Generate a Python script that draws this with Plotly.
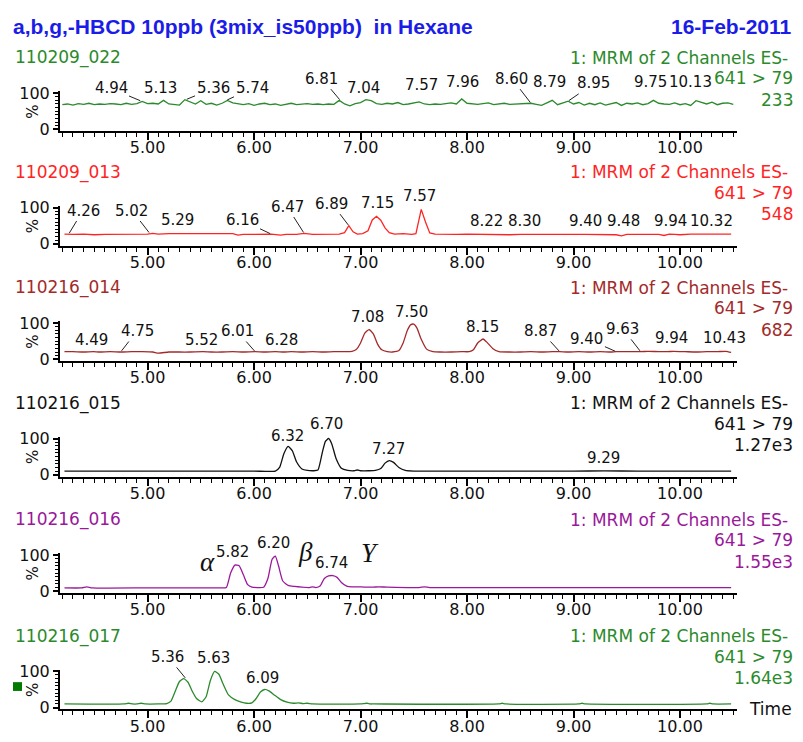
import numpy as np
import plotly.graph_objects as go

W, H = 803, 742

# ---------------- text / data ----------------
TITLE = "a,b,g,-HBCD 10ppb (3mix_is50ppb) \u00a0in Hexane"
DATE = "16-Feb-2011"
SAMPLES = ["110209_022", "110209_013", "110216_014", "110216_015", "110216_016", "110216_017"]
INTENSITY = ["233", "548", "682", "1.27e3", "1.55e3", "1.64e3"]
CHANNEL = "1: MRM of 2 Channels ES-"
TRANSITION = "641 > 79"
XTICK_VALS = [5, 6, 7, 8, 9, 10]
XTICK_TEXT = ["5.00", "6.00", "7.00", "8.00", "9.00", "10.00"]
YTICK_VALS = [0, 100]
YTICK_TEXT = ["0", "100"]

# Panel 1 : 110209_022 (noise only), sampled every 0.05 min from 4.20 to 10.50
T1 = np.round(np.arange(4.20, 10.5001, 0.05), 2)
Y1 = [68, 70, 67, 71, 69, 72, 68, 70, 69, 71,
      70, 68, 72, 69, 71, 77, 71, 72, 70, 80,
      70, 69, 67, 82, 75, 70, 79, 69, 72, 67,
      72, 80, 73, 70, 68, 71, 66, 70, 72, 68,
      70, 66, 69, 72, 68, 70, 71, 69, 70, 68,
      70, 69, 80, 70, 65, 71, 74, 82, 79, 71,
      69, 72, 70, 74, 68, 70, 72, 76, 70, 68,
      70, 69, 71, 73, 70, 84, 72, 70, 69, 71,
      73, 68, 70, 72, 69, 70, 70, 70, 72, 69,
      66, 73, 80, 68, 72, 78, 70, 74, 67, 72,
      68, 73, 67, 71, 74, 66, 72, 70, 73, 68,
      71, 80, 72, 70, 69, 73, 68, 71, 66, 79,
      74, 70, 75, 68, 72, 73, 69]

# Panel 2 : 110209_013
T2 = [4.22, 4.30, 4.40, 4.50, 4.60, 4.70, 4.80, 4.90,
      5.00, 5.05, 5.10, 5.20, 5.29, 5.40, 5.50, 5.60, 5.70, 5.80, 5.85, 5.90,
      6.00, 6.10, 6.16, 6.25, 6.30, 6.40, 6.47, 6.55, 6.60, 6.70, 6.75, 6.80, 6.85, 6.89, 6.93, 6.97,
      7.02, 7.07, 7.11, 7.15, 7.19, 7.23, 7.27, 7.32, 7.40, 7.48, 7.52, 7.57, 7.61, 7.65, 7.70, 7.80, 7.90,
      8.00, 8.10, 8.20, 8.30, 8.40, 8.50, 8.60, 8.70, 8.80, 8.90,
      9.00, 9.10, 9.20, 9.30, 9.40, 9.45, 9.50, 9.60, 9.70, 9.80, 9.85, 9.90, 9.95,
      10.00, 10.10, 10.20, 10.30, 10.40, 10.48]
Y2 = [27, 26, 27, 25, 26, 26, 25, 26,
      27, 29, 27, 28, 28, 27, 26, 26, 26, 28, 24, 26,
      26, 26, 27, 24, 26, 26, 29, 26, 26, 27, 26, 27, 31, 50, 33, 27,
      28, 36, 66, 76, 65, 44, 31, 27, 28, 26, 28, 95, 60, 30, 27, 26, 26,
      27, 26, 25, 26, 25, 26, 25, 26, 26, 25,
      26, 26, 26, 26, 25, 22, 26, 26, 26, 26, 23, 27, 26,
      25, 27, 27, 28, 27, 27]

# Panel 3 : 110216_014
T3 = [4.22, 4.30, 4.40, 4.49, 4.55, 4.65, 4.75, 4.85, 4.95,
      5.05, 5.10, 5.20, 5.30, 5.40, 5.52, 5.60, 5.70, 5.80, 5.90,
      6.01, 6.10, 6.20, 6.28, 6.35, 6.45, 6.55, 6.65, 6.75, 6.85, 6.92, 6.96,
      7.00, 7.04, 7.08, 7.12, 7.16, 7.20, 7.25, 7.30, 7.36, 7.40, 7.44, 7.47, 7.50, 7.53, 7.57, 7.62, 7.68, 7.75, 7.85, 7.95,
      8.02, 8.06, 8.10, 8.15, 8.19, 8.24, 8.30, 8.40, 8.50, 8.60, 8.70, 8.80, 8.87, 8.95,
      9.05, 9.15, 9.25, 9.35, 9.40, 9.50, 9.63, 9.70, 9.80, 9.88, 9.94,
      10.05, 10.15, 10.25, 10.35, 10.43, 10.48]
Y3 = [21, 21, 20, 21, 20, 21, 20, 21, 21,
      20, 17, 20, 20, 20, 21, 20, 20, 21, 20,
      21, 20, 21, 20, 21, 20, 21, 20, 21, 21, 22, 27,
      45, 72, 82, 70, 42, 26, 21, 20, 24, 45, 80, 95, 97, 86, 55, 28, 21, 20, 20, 21,
      21, 26, 45, 56, 46, 30, 21, 20, 20, 21, 20, 21, 21, 20,
      21, 20, 21, 20, 21, 21, 21, 22, 21, 21, 22,
      21, 20, 21, 21, 22, 19]

# Panel 4 : 110216_015
T4 = [4.22, 5.00, 6.00, 6.20, 6.24, 6.28, 6.32, 6.36, 6.40, 6.45,
      6.50, 6.56, 6.60, 6.64, 6.67, 6.70, 6.73, 6.77, 6.82, 6.88,
      6.94, 6.97, 7.00, 7.08, 7.14, 7.19, 7.23, 7.27, 7.31, 7.36,
      7.42, 7.50, 8.00, 9.00, 9.29, 9.60, 10.48]
Y4 = [10, 10, 10, 10, 20, 58, 78, 66, 35, 16,
      12, 11, 13, 60, 92, 100, 85, 45, 18, 12,
      11, 13, 11, 11, 12, 17, 32, 39, 34, 20,
      12, 10, 10, 10, 10.5, 10, 10]

# Panel 5 : 110216_016
T5 = [4.22, 4.38, 4.43, 4.48, 5.00, 5.50, 5.70, 5.74, 5.78, 5.82,
      5.86, 5.90, 5.94, 5.98, 6.04, 6.09, 6.13, 6.17, 6.20, 6.23,
      6.27, 6.32, 6.38, 6.45, 6.52, 6.55, 6.58, 6.62, 6.66, 6.70,
      6.74, 6.78, 6.82, 6.87, 6.92, 6.97, 7.05, 7.12, 7.17, 7.25,
      7.55, 7.60, 7.65, 8.00, 9.00, 10.00, 10.48]
Y5 = [9, 9, 12, 9, 9, 9, 9, 10, 50, 72,
      70, 45, 18, 11, 10, 11, 35, 88, 97, 70,
      28, 16, 13, 11, 10, 12, 10, 14, 35, 42,
      43, 38, 24, 14, 12, 12, 11, 11, 12, 11,
      10, 12, 10, 10, 10, 10, 10]

# Panel 6 : 110216_017
T6 = [4.22, 4.78, 4.82, 4.86, 4.90, 4.94, 4.98, 5.10, 5.18, 5.22,
      5.26, 5.30, 5.34, 5.38, 5.42, 5.46, 5.51, 5.55, 5.59, 5.63,
      5.67, 5.71, 5.76, 5.82, 5.88, 5.93, 5.98, 6.02, 6.06, 6.10,
      6.14, 6.19, 6.25, 6.31, 6.37, 6.42, 6.46, 6.50, 6.55, 7.00,
      7.06, 7.09, 7.12, 8.30, 8.33, 8.36, 9.05, 9.08, 9.11, 10.25,
      10.28, 10.31, 10.48]
Y6 = [10, 10, 12, 10, 10, 12, 10, 10, 11, 18,
      45, 72, 80, 70, 45, 25, 16, 30, 75, 100,
      92, 65, 35, 22, 15, 12, 13, 25, 43, 50,
      46, 35, 22, 15, 12, 13, 11, 12, 10, 10,
      12, 10, 10, 10, 12, 10, 10, 12, 10, 10,
      12, 10, 10]

# labelled retention times per panel
PEAKS = [
    [4.94, 5.13, 5.36, 5.74, 6.81, 7.04, 7.57, 7.96, 8.60, 8.79, 8.95, 9.75, 10.13],
    [4.26, 5.02, 5.29, 6.16, 6.47, 6.89, 7.15, 7.57, 8.22, 8.30, 9.40, 9.48, 9.94, 10.32],
    [4.49, 4.75, 5.52, 6.01, 6.28, 7.08, 7.50, 8.15, 8.87, 9.40, 9.63, 9.94, 10.43],
    [6.32, 6.70, 7.27, 9.29],
    [5.82, 6.20, 6.74],
    [5.36, 5.63, 6.09],
]

# ---------------- layout / style (positions) ----------------
COLORS = ["#2b8a2b", "#ff2424", "#a32a2a", "#111111", "#9a189a", "#2b8a2b"]
SHAPES = ["linear", "linear", "spline", "spline", "spline", "spline"]
Y0 = [124, 241, 359, 477, 596, 715]  # pixel row of the 0 % level of each panel
# (label x in minutes, label y in %, leader end y in % or None)
LABEL_POS = [
    [(4.657, 113, 78), (5.117, 113, None), (5.615, 113, 82), (5.981, 113, 80),
     (6.638, 140, 80), (7.032, 113, None), (7.577, 121, None), (7.953, 127, None),
     (8.422, 140, 72), (8.77, 127, None), (9.192, 127, 78), (9.727, 127, None), (10.103, 127, None)],
    [(4.394, 92, 27), (4.854, 92, 29), (5.277, 65, None), (5.887, 65, 27), (6.31, 103, 29),
     (6.732, 111, 50), (7.155, 111, None), (7.549, 130, None), (8.187, 62, None), (8.535, 62, None),
     (9.108, 62, None), (9.465, 62, None), (9.915, 62, None), (10.291, 62, None)],
    [(4.478, 51, None), (4.901, 78, 21), (5.511, 51, None), (5.84, 78, 21), (6.262, 51, None),
     (7.07, 113, None), (7.483, 127, None), (8.141, 86, None), (8.694, 78, 21),
     (9.126, 57, 21), (9.464, 84, 21), (9.924, 57, None), (10.422, 57, None)],
    [(6.31, 105, None), (6.685, 138, None), (7.258, 70, None), (9.286, 46, None)],
    [(5.802, 105, None), (6.187, 130, None), (6.723, 76, None)],
    [(5.192, 140, 80), (5.615, 135, None), (6.075, 81, None)],
]

XRANGE = [4.178, 10.535]
PX_PER_PCT = 0.37
SANS = "DejaVu Sans"


def PX(x):
    return x / W


def PY(y):
    return 1 - y / H


TS = [T1, T2, T3, T4, T5, T6]
YS = [Y1, Y2, Y3, Y4, Y5, Y6]

fig = go.Figure()
annotations = []
layout = {}

for k in range(6):
    i = k + 1
    y0 = Y0[k]
    col = COLORS[k]
    xa = "x" if i == 1 else f"x{i}"
    ya = "y" if i == 1 else f"y{i}"
    fig.add_trace(go.Scatter(
        x=TS[k], y=YS[k], mode="lines", xaxis=xa, yaxis=ya,
        line=dict(color=col, width=1.3, shape=SHAPES[k], smoothing=0.5),
        hoverinfo="skip", showlegend=False))

    bottom_px = y0 + 5 * PX_PER_PCT
    top_px = y0 - 105 * PX_PER_PCT
    layout[f"xaxis{'' if i == 1 else i}"] = dict(
        domain=[PX(60), PX(737)], range=XRANGE, anchor=ya,
        showline=True, linewidth=2, linecolor="black", mirror=False,
        ticks="outside", ticklen=7, tickwidth=1.5, tickcolor="black",
        tickvals=XTICK_VALS, ticktext=XTICK_TEXT, ticklabelstandoff=-6,
        tickfont=dict(family=SANS, size=16, color="#111"),
        minor=dict(dtick=0.1, tick0=0, ticks="outside", ticklen=4, tickwidth=1.2, tickcolor="black"),
        showgrid=False, zeroline=False, fixedrange=True)
    layout[f"yaxis{'' if i == 1 else i}"] = dict(
        domain=[PY(bottom_px), PY(top_px)], range=[-5, 105], anchor=xa,
        showline=True, linewidth=2, linecolor="black",
        ticks="outside", ticklen=5, tickwidth=1.5, tickcolor="black",
        tickvals=YTICK_VALS, ticktext=YTICK_TEXT,
        tickfont=dict(family=SANS, size=16, color="#111"),
        minor=dict(dtick=10, ticks="outside", ticklen=3, tickwidth=1, tickcolor="black"),
        showgrid=False, zeroline=False, fixedrange=True)

    # "%" label
    annotations.append(dict(xref="paper", yref="paper", x=PX(33), y=PY(y0 - 18), text="%",
                            showarrow=False, textangle=-90, xanchor="center", yanchor="middle",
                            font=dict(family=SANS, size=15, color="#111")))
    # header texts
    annotations.append(dict(xref="paper", yref="paper", x=PX(13), y=PY(y0 - 73), text=SAMPLES[k],
                            showarrow=False, xanchor="left", yanchor="middle",
                            font=dict(family=SANS, size=17, color=col)))
    annotations.append(dict(xref="paper", yref="paper", x=PX(790), y=PY(y0 - 73), text=CHANNEL,
                            showarrow=False, xanchor="right", yanchor="middle",
                            font=dict(family=SANS, size=17, color=col)))
    annotations.append(dict(xref="paper", yref="paper", x=PX(795), y=PY(y0 - 52), text=TRANSITION,
                            showarrow=False, xanchor="right", yanchor="middle",
                            font=dict(family=SANS, size=17, color=col)))
    annotations.append(dict(xref="paper", yref="paper", x=PX(795), y=PY(y0 - 30), text=INTENSITY[k],
                            showarrow=False, xanchor="right", yanchor="middle",
                            font=dict(family=SANS, size=17, color=col)))

    # peak labels
    for rt, (lx, ly, lead) in zip(PEAKS[k], LABEL_POS[k]):
        txt = f"{rt:.2f}"
        if lead is None:
            # anchor at 0 % (inside range) and shift up in pixels, so labels above the
            # axis range are not hidden
            annotations.append(dict(xref=xa, yref=ya, x=lx, y=0, yshift=ly * PX_PER_PCT,
                                    text=txt, showarrow=False,
                                    xanchor="center", yanchor="middle",
                                    font=dict(family=SANS, size=15, color="#111")))
        else:
            annotations.append(dict(xref=xa, yref=ya, x=rt, y=lead, ax=lx, ay=ly,
                                    axref=xa, ayref=ya, text=txt, showarrow=True,
                                    arrowhead=0, arrowwidth=1, arrowcolor="#222",
                                    standoff=1, xanchor="center", yanchor="middle",
                                    font=dict(family=SANS, size=15, color="#111")))

# title and date
annotations.append(dict(xref="paper", yref="paper", x=PX(11), y=PY(19), text=f"<b>{TITLE}</b>",
                        showarrow=False, xanchor="left", yanchor="middle",
                        font=dict(family="Liberation Sans, Arial", size=21, color="#1c1ce8")))
annotations.append(dict(xref="paper", yref="paper", x=PX(794), y=PY(19), text=f"<b>{DATE}</b>",
                        showarrow=False, xanchor="right", yanchor="middle",
                        font=dict(family="Liberation Sans, Arial", size=21, color="#1c1ce8")))
# Time label
annotations.append(dict(xref="paper", yref="paper", x=PX(747), y=PY(716), text="Time",
                        showarrow=False, xanchor="left", yanchor="middle",
                        font=dict(family=SANS, size=17, color="#111")))
# Greek isomer labels in panel 5
for sym, gx, gy in [("α", 208, 566), ("β", 305, 556), ("Y", 370, 557)]:
    annotations.append(dict(xref="paper", yref="paper", x=PX(gx), y=PY(gy), text=f"<i>{sym}</i>",
                            showarrow=False, xanchor="center", yanchor="middle",
                            font=dict(family="Liberation Serif", size=27, color="#111")))

shapes = [dict(type="rect", xref="paper", yref="paper", x0=PX(13), x1=PX(22), y0=PY(698), y1=PY(689),
               fillcolor="#007a00", line=dict(width=0))]

fig.update_layout(width=W, height=H, autosize=False, margin=dict(l=0, r=0, t=0, b=0),
                  paper_bgcolor="white", plot_bgcolor="white", showlegend=False,
                  annotations=annotations, shapes=shapes, **layout)

fig.write_html("out.html", config=dict(displayModeBar=False))
